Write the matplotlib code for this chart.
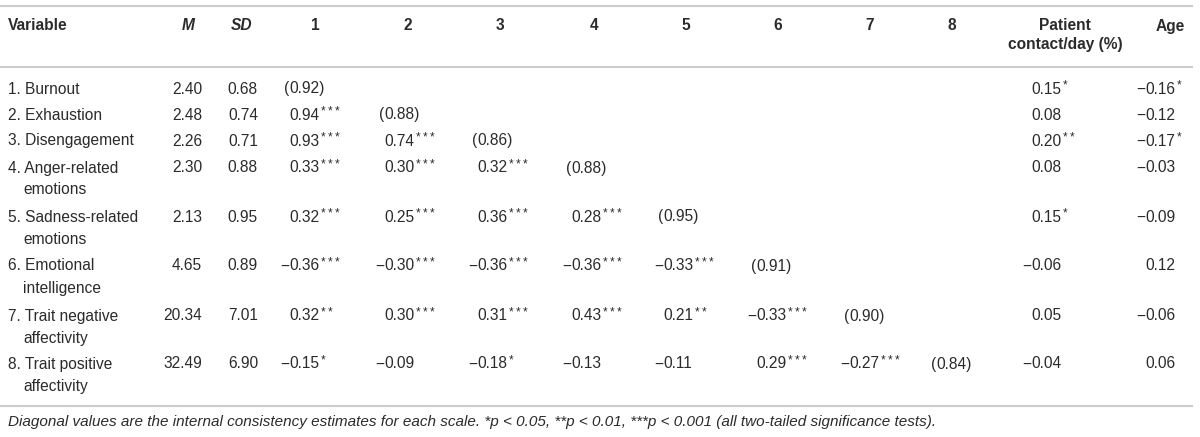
import matplotlib.pyplot as plt

plt.rcParams['font.family'] = ['Liberation Sans', 'DejaVu Sans']

# table content
variables = ["1. Burnout", "2. Exhaustion", "3. Disengagement",
             "4. Anger-related\nemotions", "5. Sadness-related\nemotions",
             "6. Emotional\nintelligence", "7. Trait negative\naffectivity",
             "8. Trait positive\naffectivity"]
means = ["2.40", "2.48", "2.26", "2.30", "2.13", "4.65", "20.34", "32.49"]
sds = ["0.68", "0.74", "0.71", "0.88", "0.95", "0.89", "7.01", "6.90"]
alphas = ["0.92", "0.88", "0.86", "0.88", "0.95", "0.91", "0.90", "0.84"]

# lower triangle, row i has i entries (value, stars)
corr = [
    [],
    [("0.94", "***")],
    [("0.93", "***"), ("0.74", "***")],
    [("0.33", "***"), ("0.30", "***"), ("0.32", "***")],
    [("0.32", "***"), ("0.25", "***"), ("0.36", "***"), ("0.28", "***")],
    [("-0.36", "***"), ("-0.30", "***"), ("-0.36", "***"), ("-0.36", "***"), ("-0.33", "***")],
    [("0.32", "**"), ("0.30", "***"), ("0.31", "***"), ("0.43", "***"), ("0.21", "**"), ("-0.33", "***")],
    [("-0.15", "*"), ("-0.09", ""), ("-0.18", "*"), ("-0.13", ""), ("-0.11", ""), ("0.29", "***"), ("-0.27", "***")],
]
patient = [("0.15", "*"), ("0.08", ""), ("0.20", "**"), ("0.08", ""),
           ("0.15", "*"), ("-0.06", ""), ("0.05", ""), ("-0.04", "")]
age = [("-0.16", "*"), ("-0.12", ""), ("-0.17", "*"), ("-0.03", ""),
       ("-0.09", ""), ("0.12", ""), ("-0.06", ""), ("0.06", "")]

col_heads = ["1", "2", "3", "4", "5", "6", "7", "8"]
footnote = ("Diagonal values are the internal consistency estimates for each scale. "
            "*p < 0.05, **p < 0.01, ***p < 0.001 (all two-tailed significance tests).")

TXT = "#2b2b2b"
LINE = "#cccccc"
FS = 11.2

fig = plt.figure(figsize=(12, 4.37), dpi=100)
ax = fig.add_axes([0, 0, 1, 1])
ax.set_xlim(0, 1200)
ax.set_ylim(437, 0)
ax.axis("off")
fig.canvas.draw()
renderer = fig.canvas.get_renderer()

def width(t):
    return t.get_window_extent(renderer).width

def cell(x0, y, val, stars="", paren=False):
    neg = val.startswith("-")
    num = val.lstrip("-")
    if neg:
        ax.text(x0, y, "\u2212", ha="right", va="center", fontsize=FS, color=TXT)
    if paren:
        ax.text(x0, y, "(", ha="right", va="center", fontsize=FS, color=TXT)
        num = num + ")"
    t = ax.text(x0, y, num, ha="left", va="center", fontsize=FS, color=TXT)
    if stars:
        w = width(t)
        for k in range(len(stars)):
            ax.text(x0 + w + 1.5 + k * 7.3, y - 3.5, "*", ha="left", va="center",
                    fontsize=8.5, color=TXT)

# rules
for yl in [6, 67, 406]:
    ax.plot([0, 1192], [yl, yl], color=LINE, lw=1.5)

# headers
hy = 26
ax.text(8, hy, "Variable", ha="left", va="center", fontsize=FS, fontweight="bold", color=TXT)
ax.text(188, hy, "M", ha="center", va="center", fontsize=FS, fontweight="bold", style="italic", color=TXT)
ax.text(242, hy, "SD", ha="center", va="center", fontsize=FS, fontweight="bold", style="italic", color=TXT)
head_x = [315, 408, 500, 594, 686, 778, 870, 952]
for hx, h in zip(head_x, col_heads):
    ax.text(hx, hy, h, ha="center", va="center", fontsize=FS, fontweight="bold", color=TXT)
ax.text(1065, hy, "Patient", ha="center", va="center", fontsize=FS, fontweight="bold", color=TXT)
ax.text(1065, hy + 19, "contact/day (%)", ha="center", va="center", fontsize=FS, fontweight="bold", color=TXT)
ax.text(1185, hy, "Age", ha="right", va="center", fontsize=FS, fontweight="bold", color=TXT)

# body
row_y = [89, 115, 141, 168, 217, 266, 316, 364]
num_x = [289, 384, 477, 571, 663, 756, 849, 936]
for i, y in enumerate(row_y):
    lines = variables[i].split("\n")
    ax.text(8, y, lines[0], ha="left", va="center", fontsize=FS, color=TXT)
    if len(lines) > 1:
        ax.text(23, y + 22, lines[1], ha="left", va="center", fontsize=FS, color=TXT)
    ax.text(202, y, means[i], ha="right", va="center", fontsize=FS, color=TXT)
    ax.text(258, y, sds[i], ha="right", va="center", fontsize=FS, color=TXT)
    for j, (v, s) in enumerate(corr[i]):
        cell(num_x[j], y, v, s)
    cell(num_x[i], y, alphas[i], paren=True)
    cell(1031, y, *patient[i])
    cell(1145, y, *age[i])

ax.text(8, 422, footnote, ha="left", va="center", fontsize=11, style="italic", color=TXT)

fig.savefig("out.png", dpi=100)
